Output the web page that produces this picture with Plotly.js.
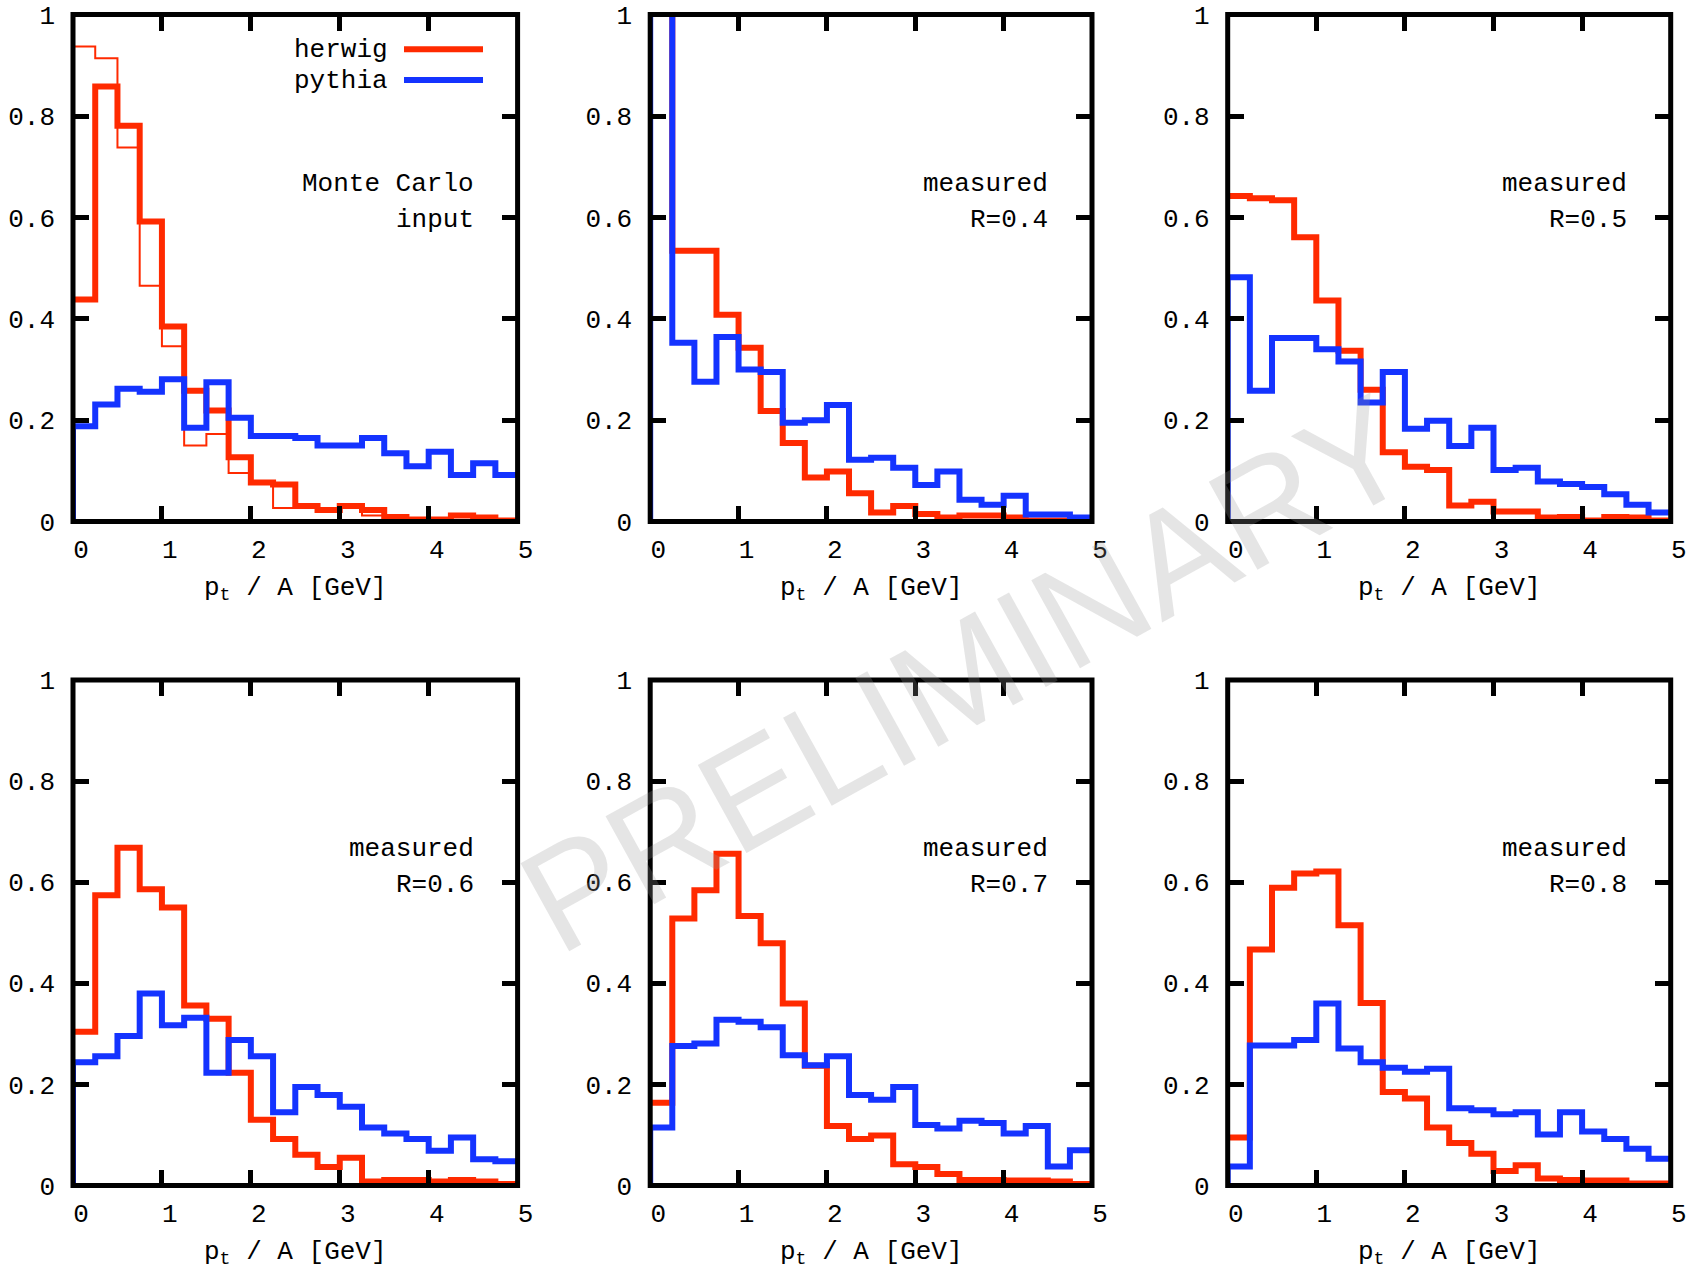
<!DOCTYPE html>
<html>
<head>
<meta charset="utf-8">
<script src="https://cdn.plot.ly/plotly-3.0.1.min.js"></script>
<style>html,body{margin:0;padding:0;background:#fff;}#chart{width:1687px;height:1266px;}</style>
</head>
<body>
<div id="chart"></div>
<script>
// ---- data ----
const binEdges = [0, 0.25, 0.5, 0.75, 1, 1.25, 1.5, 1.75, 2, 2.25, 2.5, 2.75, 3, 3.25, 3.5, 3.75, 4, 4.25, 4.5, 4.75, 5];

const xTickVals = [0, 1, 2, 3, 4, 5];
const xTickText = ["0", "1", "2", "3", "4", "5"];
const yTickVals = [0, 0.2, 0.4, 0.6, 0.8, 1];
const yTickText = ["0", "0.2", "0.4", "0.6", "0.8", "1"];

const panelLabelTop = ["Monte Carlo", "measured", "measured", "measured", "measured", "measured"];
const panelLabelBottom = ["input", "R=0.4", "R=0.5", "R=0.6", "R=0.7", "R=0.8"];
const seriesNames = ["herwig", "pythia"];
const xTitle = "p<sub>t</sub> / A [GeV]";
const watermark = "PRELIMINARY";

// Monte Carlo input (panel 1)
const herwigMCThin = [0.937, 0.914, 0.738, 0.465, 0.346, 0.150, 0.173, 0.096, 0.078, 0.027, 0.030, 0.022, 0.030, 0.012, 0.008, 0.004, 0.004, 0.010, 0.006, 0.002];
const herwigMC = [0.438, 0.858, 0.781, 0.592, 0.385, 0.258, 0.219, 0.127, 0.077, 0.073, 0.031, 0.023, 0.031, 0.023, 0.009, 0.004, 0.004, 0.012, 0.008, 0.002];
const pythiaMC = [0.188, 0.231, 0.262, 0.256, 0.281, 0.185, 0.275, 0.205, 0.169, 0.169, 0.165, 0.150, 0.150, 0.165, 0.135, 0.109, 0.138, 0.092, 0.115, 0.092];

// measured R=0.4
const herwigR04 = [1.20, 0.534, 0.534, 0.408, 0.343, 0.218, 0.155, 0.087, 0.099, 0.056, 0.018, 0.031, 0.015, 0.008, 0.012, 0.012, 0.008, 0.002, 0.002, 0.000];
const pythiaR04 = [1.20, 0.353, 0.276, 0.364, 0.300, 0.295, 0.195, 0.200, 0.230, 0.122, 0.126, 0.106, 0.072, 0.099, 0.043, 0.033, 0.051, 0.014, 0.014, 0.008];

// measured R=0.5
const herwigR05 = [0.642, 0.638, 0.634, 0.561, 0.436, 0.337, 0.260, 0.137, 0.108, 0.102, 0.032, 0.039, 0.020, 0.020, 0.008, 0.009, 0.002, 0.009, 0.008, 0.002];
const pythiaR05 = [0.482, 0.258, 0.362, 0.362, 0.340, 0.316, 0.235, 0.295, 0.183, 0.199, 0.149, 0.185, 0.102, 0.106, 0.079, 0.074, 0.068, 0.054, 0.033, 0.018];

// measured R=0.6
const herwigR06 = [0.304, 0.574, 0.668, 0.586, 0.550, 0.356, 0.330, 0.223, 0.130, 0.092, 0.061, 0.037, 0.055, 0.008, 0.011, 0.011, 0.008, 0.011, 0.008, 0.003];
const pythiaR06 = [0.244, 0.256, 0.296, 0.380, 0.317, 0.332, 0.223, 0.288, 0.256, 0.145, 0.195, 0.179, 0.156, 0.115, 0.103, 0.092, 0.069, 0.095, 0.052, 0.048];

// measured R=0.7
const herwigR07 = [0.164, 0.528, 0.584, 0.656, 0.533, 0.479, 0.360, 0.237, 0.118, 0.092, 0.099, 0.042, 0.037, 0.023, 0.011, 0.011, 0.010, 0.010, 0.008, 0.003];
const pythiaR07 = [0.115, 0.276, 0.281, 0.328, 0.324, 0.313, 0.258, 0.238, 0.256, 0.179, 0.170, 0.195, 0.120, 0.113, 0.128, 0.124, 0.103, 0.118, 0.038, 0.070];

// measured R=0.8
const herwigR08 = [0.095, 0.467, 0.589, 0.617, 0.621, 0.515, 0.361, 0.185, 0.172, 0.115, 0.084, 0.063, 0.029, 0.040, 0.014, 0.011, 0.010, 0.010, 0.004, 0.004];
const pythiaR08 = [0.038, 0.277, 0.277, 0.288, 0.360, 0.271, 0.244, 0.233, 0.225, 0.231, 0.153, 0.149, 0.141, 0.145, 0.101, 0.145, 0.107, 0.092, 0.073, 0.053];

const herwigPanels = [herwigMC, herwigR04, herwigR05, herwigR06, herwigR07, herwigR08];
const pythiaPanels = [pythiaMC, pythiaR04, pythiaR05, pythiaR06, pythiaR07, pythiaR08];

// ---- styles ----
const RED = "#ff2a00";
const BLUE = "#1433ff";
const MONO = "Courier New, Nimbus Mono PS, FreeMono, Liberation Mono, monospace";
const FS = 26;

// histogram steps (gnuplot histeps look)
function stepTrace(vals, color, width, axisIdx, fromZero) {
  const n = vals.length;
  let xs = binEdges.slice(0, n).concat([binEdges[n]]);
  let ys = vals.concat([vals[n - 1]]);
  if (fromZero) { xs = [binEdges[0]].concat(xs); ys = [0].concat(ys); }
  const s = axisIdx === 1 ? "" : String(axisIdx);
  return {
    type: "scatter", mode: "lines", x: xs, y: ys,
    line: {shape: "hv", color: color, width: width},
    xaxis: "x" + s, yaxis: "y" + s, showlegend: false, hoverinfo: "skip"
  };
}

const traces = [];
traces.push(stepTrace(herwigMCThin, RED, 2, 1, false));
for (let i = 0; i < 6; i++) {
  traces.push(stepTrace(herwigPanels[i], RED, 6, i + 1, false));
  traces.push(stepTrace(pythiaPanels[i], BLUE, 6, i + 1, true));
}

// panel placement (data range edges = frame line centres, in px)
const W = 1687, H = 1266;
const colPx = [[73, 517.6], [650.2, 1092], [1227.7, 1670.7]];
const rowPx = [[14.6, 521.6], [679.9, 1185.6]];
const px2x = p => p / W;
const px2y = p => 1 - p / H;

const layout = {
  width: W, height: H,
  margin: {l: 0, r: 0, t: 0, b: 0},
  paper_bgcolor: "#ffffff", plot_bgcolor: "#ffffff",
  font: {family: MONO, size: FS, color: "#000"},
  showlegend: false,
  annotations: [], shapes: []
};

for (let i = 0; i < 6; i++) {
  const r = Math.floor(i / 3), c = i % 3;
  const s = i === 0 ? "" : String(i + 1);
  const [xl, xr] = colPx[c];
  const [yt, yb] = rowPx[r];
  layout["xaxis" + s] = {
    domain: [px2x(xl), px2x(xr)], range: [0, 5], anchor: "y" + s,
    showline: false, mirror: "ticks",
    ticks: "inside", ticklen: 16, tickwidth: 5, tickcolor: "#000",
    tickvals: xTickVals, ticktext: xTickText,
    ticklabelshift: 8, ticklabelstandoff: 9,
    tickfont: {family: MONO, size: FS, color: "#000"},
    showgrid: false, zeroline: false, fixedrange: true
  };
  layout["yaxis" + s] = {
    domain: [px2y(yb), px2y(yt)], range: [0, 1], anchor: "x" + s,
    showline: false, mirror: "ticks",
    ticks: "inside", ticklen: 16, tickwidth: 5, tickcolor: "#000",
    tickvals: yTickVals, ticktext: yTickText,
    ticklabelstandoff: 17,
    tickfont: {family: MONO, size: FS, color: "#000"},
    showgrid: false, zeroline: false, fixedrange: true
  };
  // frame, centred on the data-range edges
  layout.shapes.push({
    type: "rect", xref: "x" + s + " domain", yref: "y" + s + " domain",
    x0: 0, x1: 1, y0: 0, y1: 1, layer: "above",
    line: {color: "#000", width: 5}, fillcolor: "rgba(0,0,0,0)"
  });
  // x-axis title below each panel
  layout.annotations.push({
    text: xTitle, xref: "paper", yref: "paper",
    x: px2x((xl + xr) / 2), y: px2y(yb + 67),
    xanchor: "center", yanchor: "middle", showarrow: false,
    font: {family: MONO, size: FS, color: "#000"}
  });
  // panel label, two right-aligned lines
  layout.annotations.push({
    text: panelLabelTop[i], xref: "paper", yref: "paper",
    x: px2x(xr - 42), y: px2y(yt + 169.5), xanchor: "right", yanchor: "middle",
    showarrow: false, font: {family: MONO, size: FS, color: "#000"}
  });
  layout.annotations.push({
    text: panelLabelBottom[i], xref: "paper", yref: "paper",
    x: px2x(xr - 42), y: px2y(yt + 205.3), xanchor: "right", yanchor: "middle",
    showarrow: false, font: {family: MONO, size: FS, color: "#000"}
  });
}

// legend (gnuplot style: text, then sample line to the right), in panel 1
const legendLinePx = [49.2, 79.9];
const legendTextPx = [49.6, 80.8];
const legendColors = [RED, BLUE];
for (let k = 0; k < 2; k++) {
  layout.annotations.push({
    text: seriesNames[k], xref: "paper", yref: "paper",
    x: px2x(389.6), y: px2y(legendTextPx[k]), xanchor: "right", yanchor: "middle",
    showarrow: false, font: {family: MONO, size: FS, color: "#000"}
  });
  layout.shapes.push({
    type: "line", xref: "paper", yref: "paper",
    x0: px2x(404), x1: px2x(483), y0: px2y(legendLinePx[k]), y1: px2y(legendLinePx[k]),
    line: {color: legendColors[k], width: 6}
  });
}

// watermark
layout.annotations.push({
  text: watermark, xref: "paper", yref: "paper",
  x: px2x(966), y: px2y(673), xanchor: "center", yanchor: "middle",
  textangle: -29, showarrow: false,
  font: {family: "Liberation Sans, Arial, sans-serif", size: 146, color: "rgba(150,150,150,0.25)"}
});

Plotly.newPlot("chart", traces, layout, {displayModeBar: false, staticPlot: true});
</script>
</body>
</html>
